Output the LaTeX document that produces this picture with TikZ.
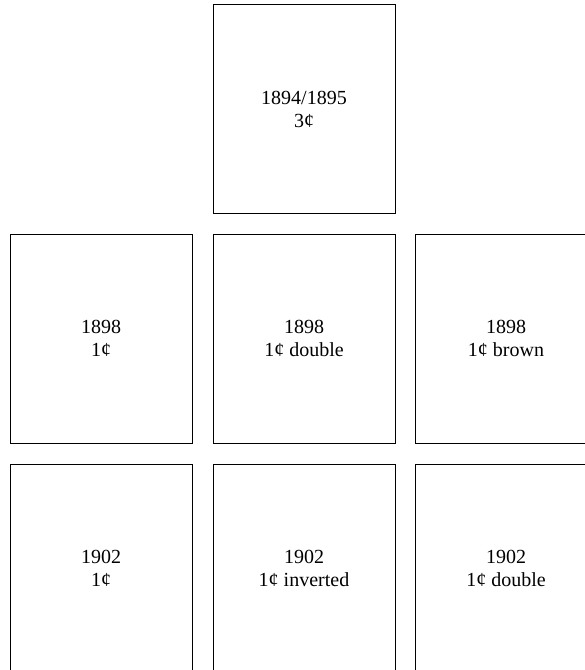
\documentclass[tikz,border=0pt]{standalone}
\usepackage{fontspec}
\setmainfont{Liberation Serif}
\begin{document}
\begin{tikzpicture}[x=1pt,y=-1pt,
  stamp/.style={draw, line width=0.9pt, minimum width=182pt, minimum height=209pt, inner sep=0pt,
    align=center, font=\fontsize{20}{23}\selectfont}]
\useasboundingbox (0,0) rectangle (585,670);
\clip (0,0) rectangle (585,670);
\node[stamp] (a) at (304,109) {1894/1895\\3¢};
\node[stamp] (b1) at (101,338.5) {1898\\1¢};
\node[stamp] (b2) at (304,338.5) {1898\\1¢ double};
\node[stamp] (b3) at (506,338.5) {1898\\1¢ brown};
\node[stamp] (c1) at (101,568.5) {1902\\1¢};
\node[stamp] (c2) at (304,568.5) {1902\\1¢ inverted};
\node[stamp] (c3) at (506,568.5) {1902\\1¢ double};
\end{tikzpicture}
\end{document}
